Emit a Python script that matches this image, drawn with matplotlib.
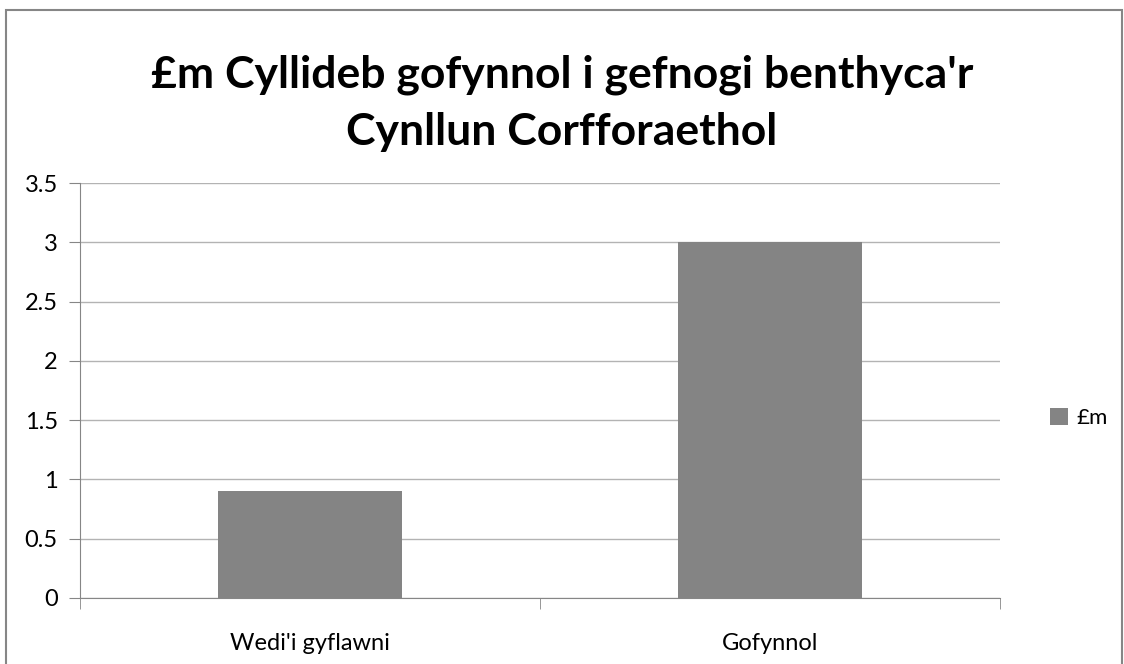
import matplotlib.pyplot as plt
from matplotlib.patches import Rectangle

categories = ["Wedi'i gyflawni", "Gofynnol"]
values = [0.9, 3.0]
series_name = "£m"
title = "£m Cyllideb gofynnol i gefnogi benthyca'r\nCynllun Corfforaethol"
yticks = [0, 0.5, 1, 1.5, 2, 2.5, 3, 3.5]

plt.rcParams['font.family'] = ['Lato', 'DejaVu Sans']

fig = plt.figure(figsize=(11.24, 6.64), dpi=100)
ax = fig.add_axes([80/1124, 1 - 598/664, 920/1124, 415/664])

x = list(range(len(categories)))
ax.bar(x, values, width=0.4, color='#848484', label=series_name, zorder=3)

ax.set_xlim(-0.5, len(categories) - 0.5)
ax.set_ylim(0, 3.5)
ax.set_yticks(yticks)
ax.set_yticklabels([f'{v:g}' for v in yticks], fontsize=17)
ax.set_xticks(x)
ax.set_xticklabels(categories, fontsize=17)
ax.set_xticks([i - 0.5 for i in range(len(categories) + 1)], minor=True)
ax.tick_params(axis='x', which='major', length=0, pad=25)
ax.tick_params(axis='x', which='minor', length=8, color='#868686')
ax.tick_params(axis='y', length=8, color='#868686', pad=8)

ax.yaxis.grid(True, color='#b3b3b3', linewidth=1, zorder=0)
for s in ['top', 'right']:
    ax.spines[s].set_visible(False)
for s in ['left', 'bottom']:
    ax.spines[s].set_color('#868686')

fig.text(0.5, 1 - 103/664, title, ha='center', va='center',
         fontsize=32, fontweight='bold', linespacing=1.5)

ax.legend(loc='center left', bbox_to_anchor=(1030/1124, 1 - 418/664),
          bbox_transform=fig.transFigure, frameon=False, fontsize=16,
          handlelength=0.8, handleheight=0.8, handletextpad=0.4)

fig.patches.append(Rectangle((6/1124, -0.05), 1116/1124, 1.05 - 10/664,
                             transform=fig.transFigure, fill=False,
                             edgecolor='#868686', linewidth=1.5))

fig.savefig('out.png')
